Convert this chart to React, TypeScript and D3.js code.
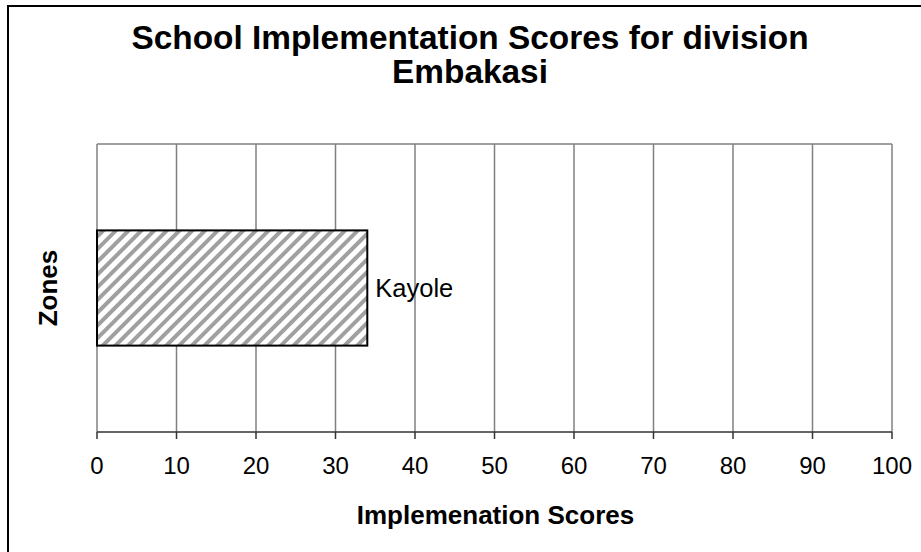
import React from "react";
import * as d3 from "d3";

const categories = ["Kayole"];
const scores = [34];
const xTicks = [0, 10, 20, 30, 40, 50, 60, 70, 80, 90, 100];
const titleLines = ["School Implementation Scores for division", "Embakasi"];
const xTitle = "Implemenation Scores";
const yTitle = "Zones";

export default function App() {
  const W = 921, H = 552;
  const left = 97, right = 892, top = 144, bottom = 432;
  const x = d3.scaleLinear().domain([0, 100]).range([left, right]);
  const y = d3.scaleBand().domain(categories).range([top, bottom]).paddingInner(0.6).paddingOuter(0.3);
  const font = "Arial, 'Liberation Sans', sans-serif";
  return (
    <svg width={W} height={H} style={{ position: "absolute", left: 0, top: 0 }} fontFamily={font}>
      <defs>
        <pattern id="hatch" patternUnits="userSpaceOnUse" width="9" height="9" patternTransform="rotate(45)">
          <rect x="0" y="0" width="9" height="9" fill="#fff" />
          <rect x="0" y="0" width="4" height="9" fill="#a0a0a0" />
        </pattern>
      </defs>
      <rect x={0} y={0} width={W} height={H} fill="#fff" />
      <rect x={8} y={6} width={W + 10} height={H + 10} fill="none" stroke="#000" strokeWidth={2} />
      {/* plot border */}
      <line x1={left} y1={top} x2={right} y2={top} stroke="#808080" strokeWidth={1.5} />
      <line x1={right} y1={top} x2={right} y2={bottom} stroke="#808080" strokeWidth={1.5} />
      <line x1={left} y1={top} x2={left} y2={bottom} stroke="#808080" strokeWidth={1.5} />
      {xTicks.slice(1, -1).map((t) => (
        <line key={t} x1={x(t)} y1={top} x2={x(t)} y2={bottom} stroke="#808080" strokeWidth={1.5} />
      ))}
      {categories.map((c, i) => (
        <g key={c}>
          <rect x={x(0)} y={y(c)!} width={x(scores[i]) - x(0)} height={y.bandwidth()} fill="url(#hatch)" stroke="#000" strokeWidth={2} />
          <text x={x(scores[i]) + 8} y={y(c)! + y.bandwidth() / 2 + 9} fontSize={25.5} fill="#000">{c}</text>
        </g>
      ))}
      {/* x axis */}
      <line x1={left} y1={bottom} x2={right} y2={bottom} stroke="#333" strokeWidth={1.5} />
      {xTicks.map((t) => (
        <g key={t}>
          <line x1={x(t)} y1={bottom} x2={x(t)} y2={bottom + 7} stroke="#333" strokeWidth={1.5} />
          <text x={x(t)} y={474} textAnchor="middle" fontSize={24} fill="#000">{t}</text>
        </g>
      ))}
      <text x={(left + right) / 2 + 1} y={524} textAnchor="middle" fontSize={26} fontWeight="bold">{xTitle}</text>
      <text transform={`translate(57,${(top + bottom) / 2}) rotate(-90)`} textAnchor="middle" fontSize={26} fontWeight="bold">{yTitle}</text>
      {titleLines.map((l, i) => (
        <text key={i} x={470} y={49 + i * 34} textAnchor="middle" fontSize={33.4} fontWeight="bold">{l}</text>
      ))}
    </svg>
  );
}
